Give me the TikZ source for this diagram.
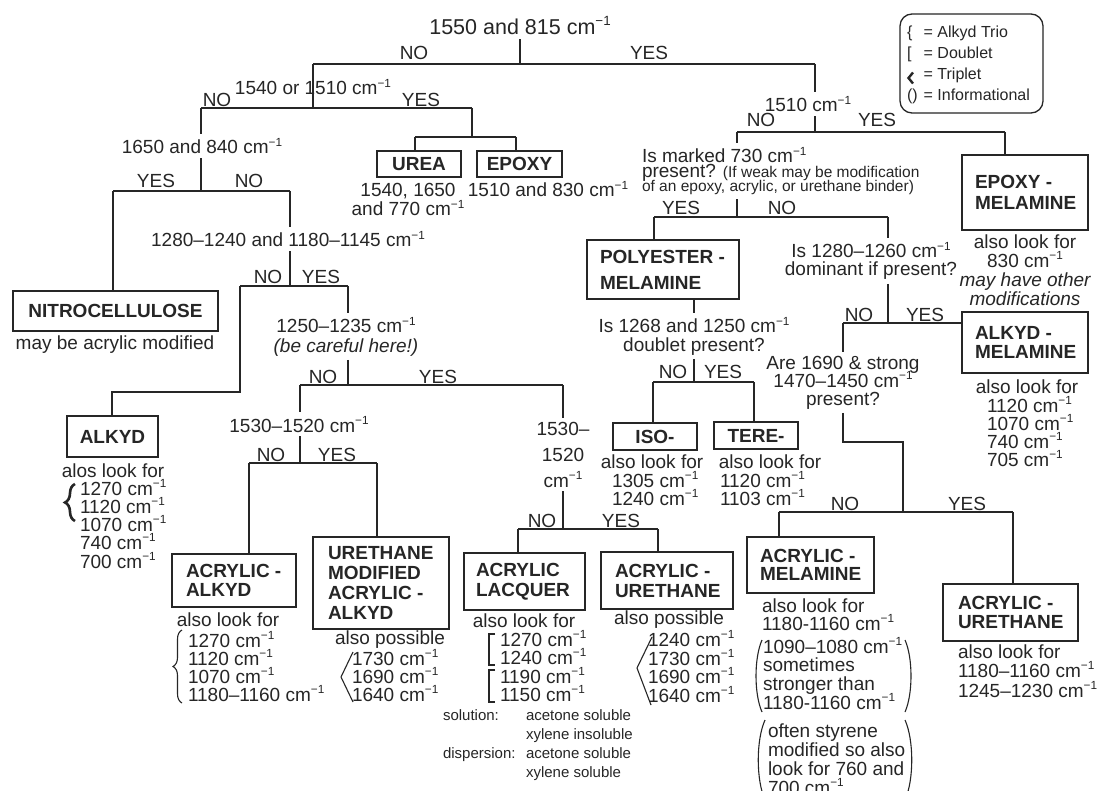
\documentclass[tikz,border=0pt]{standalone}
\usepackage{fontspec}
\setmainfont{Liberation Sans}
\usepackage{graphicx}
\usetikzlibrary{decorations.pathreplacing}
\definecolor{ink}{HTML}{262626}
% wavenumber unit with a raised -1
\newcommand\cmi{cm\raisebox{0.42em}{\scalebox{0.62}{−1}}}
% stacked lines with a fixed baseline distance; baseline of the whole = first line
\newcommand\stackC[2]{\vtop{\baselineskip=#1\relax\lineskiplimit=-\maxdimen\lineskip=0pt\halign{\hfil##\hfil\cr#2\crcr}}}
\newcommand\stackL[2]{\vtop{\baselineskip=#1\relax\lineskiplimit=-\maxdimen\lineskip=0pt\halign{##\hfil\cr#2\crcr}}}
% left-aligned lines inside a box of given width, indent and line distance
\newcommand\boxlines[4]{\hbox to #1{\hskip#2\stackL{#3}{#4}\hss}}
\newcommand\smallnote{\fontsize{15.5}{15.5}\selectfont}
\newcommand\legendrows{\vtop{\baselineskip=21pt\relax\lineskiplimit=-\maxdimen\lineskip=0pt\halign{##\hfil\hskip6pt&##\hfil\cr\{&= Alkyd Trio\cr[&= Doublet\cr&= Triplet\cr()&= Informational\cr}}}
\begin{document}
\begin{tikzpicture}[x=1pt,y=-1pt,
  txt/.style={font=\fontsize{19}{19}\selectfont, text=ink, inner xsep=0pt, inner ysep=4pt, outer sep=0pt},
  lab/.style={txt, anchor=base},
  lst/.style={txt, anchor=base west},
  notetxt/.style={txt, anchor=base west, font=\fontsize{15}{15}\selectfont},
  legtxt/.style={txt, anchor=base west, font=\fontsize{16}{16}\selectfont},
  nodebox/.style={draw=ink, line width=1.5pt, text=ink, font=\bfseries\fontsize{19}{19}\selectfont, inner sep=0pt, outer sep=0pt, anchor=north west},
  conn/.style={draw=ink, line width=1.5pt},
  bracketline/.style={draw=ink, line width=1.1pt},
]
\useasboundingbox (0,0) rectangle (1102,791);
\fill[white] (0,0) rectangle (1102,791);

% ---------------- root
\node[lab, font=\fontsize{21.5}{21.5}\selectfont] (q0) at (520,35) {1550 and 815 \cmi};
\coordinate (r0) at (520,64);
\coordinate (r0l) at (313,64);
\coordinate (r0r) at (815,64);
\node[lab] (r0no) at (414,60) {NO};
\node[lab] (r0yes) at (649,60) {YES};

% ---------------- left half
\node[lab] (q1) at (313,95) {1540 or 1510 \cmi};
\coordinate (b1) at (313,108);
\coordinate (b1l) at (201,108);
\coordinate (b1r) at (472,108);
\node[lab] (b1no) at (217,107) {NO};
\node[lab] (b1yes) at (421,107) {YES};

\coordinate (u0) at (472,137);
\coordinate (ul) at (415,137);
\coordinate (ur) at (516,137);
\node[nodebox, minimum width=84pt, minimum height=26pt] (urea) at (377,151) {UREA};
\node[nodebox, minimum width=85pt, minimum height=26pt] (epoxy) at (477,151) {EPOXY};
\node[lab] (ureacap) at (408,197) {\stackC{19pt}{1540, 1650\cr and 770 \cmi}};
\node[lab] (epoxycap) at (548,197) {1510 and 830 \cmi};

\node[lab] (q2) at (202,154) {1650 and 840 \cmi};
\coordinate (c0) at (201,191);
\coordinate (cl) at (113,191);
\coordinate (cr) at (290,191);
\node[lab] (c0yes) at (156,188) {YES};
\node[lab] (c0no) at (249,188) {NO};
\node[nodebox, minimum width=205pt, minimum height=40pt] (nitro) at (13,291) {NITROCELLULOSE};
\node[lab] (nitrocap) at (115,349) {may be acrylic modified};

\node[lab] (q3) at (288,247) {1280–1240 and 1180–1145 \cmi};
\coordinate (d0) at (290,286);
\coordinate (dl) at (240,286);
\coordinate (dr) at (348,286);
\node[lab] (d0no) at (268,284) {NO};
\node[lab] (d0yes) at (321,284) {YES};
\coordinate (e0) at (112,392);
\node[nodebox, minimum width=91pt, minimum height=41pt] (alkyd) at (67,416) {ALKYD};
\node[lab] (alkydcap) at (113,477) {alos look for};
\node[lst] (alkydlist) at (80,495) {\stackL{18.3pt}{1270 \cmi\cr 1120 \cmi\cr 1070 \cmi\cr 740 \cmi\cr 700 \cmi}};
\draw[ink, line width=2.6pt, decorate, decoration={brace, amplitude=10pt}] (75,521) -- (75,484);

\node[lab] (q4) at (346,333) {\stackC{19pt}{1250–1235 \cmi\cr \itshape (be careful here!)}};
\coordinate (f0) at (348,385);
\coordinate (fl) at (300,385);
\coordinate (fr) at (563,385);
\node[lab] (f0no) at (323,383) {NO};
\node[lab] (f0yes) at (438,383) {YES};

\node[lab] (q5) at (299,432) {1530–1520 \cmi};
\coordinate (g0) at (300,463);
\coordinate (gl) at (249,463);
\coordinate (gr) at (377,463);
\node[lab] (g0no) at (271,461) {NO};
\node[lab] (g0yes) at (337,461) {YES};
\node[nodebox, minimum width=124pt, minimum height=53pt] (acal) at (172,554) {\boxlines{124pt}{14pt}{19pt}{ACRYLIC -\cr ALKYD}};
\node[nodebox, minimum width=136pt, minimum height=92pt] (umaa) at (313,537) {\boxlines{136pt}{15pt}{19.7pt}{URETHANE\cr MODIFIED\cr ACRYLIC -\cr ALKYD}};
\node[lab] (acalcap) at (228,626) {also look for};
\node[lst] (acallist) at (188,647) {\stackL{18pt}{1270 \cmi\cr 1120 \cmi\cr 1070 \cmi\cr 1180–1160 \cmi}};
\draw[ink, line width=1.1pt, decorate, decoration={brace, amplitude=9pt}] (182,703) -- (182,630);
\node[lab] (umaacap) at (390,644) {also possible};
\node[lst] (umaalist) at (352,665) {\stackL{18pt}{1730 \cmi\cr 1690 \cmi\cr 1640 \cmi}};
\draw[bracketline] (353,652) -- (341,677) -- (353,702);

\node[lab] (q6) at (563,435) {\stackC{26pt}{1530–\cr 1520\cr \cmi}};
\coordinate (h0) at (563,529);
\coordinate (hl) at (518,529);
\coordinate (hr) at (658,529);
\node[lab] (h0no) at (542,527) {NO};
\node[lab] (h0yes) at (621,527) {YES};
\node[nodebox, minimum width=121pt, minimum height=57pt] (lacq) at (464,553) {\boxlines{121pt}{12pt}{20pt}{ACRYLIC\cr LACQUER}};
\node[nodebox, minimum width=132pt, minimum height=57pt] (acur) at (601,552) {\boxlines{132pt}{14pt}{20pt}{ACRYLIC -\cr URETHANE}};
\node[lab] (lacqcap) at (524,627) {also look for};
\node[lst] (lacqlist) at (500,646) {\stackL{18.5pt}{1270 \cmi\cr 1240 \cmi\cr 1190 \cmi\cr 1150 \cmi}};
\draw[bracketline] (495,634) -- (489,634) -- (489,665) -- (495,665);
\draw[bracketline] (495,670) -- (489,670) -- (489,702) -- (495,702);
\node[notetxt] (solkind) at (443,720) {\stackL{19pt}{solution:\cr\cr dispersion:}};
\node[notetxt] (solvent) at (526,720) {\stackL{19pt}{acetone soluble\cr xylene insoluble\cr acetone soluble\cr xylene soluble}};
\node[lab] (acurcap) at (669,624) {also possible};
\node[lst] (acurlist) at (648,646.5) {\stackL{18.5pt}{1240 \cmi\cr 1730 \cmi\cr 1690 \cmi\cr 1640 \cmi}};
\draw[bracketline] (652,637) -- (637,668) -- (651,705);

% ---------------- right half
\node[lab] (q7) at (808,112) {1510 \cmi};
\coordinate (i0) at (815,132);
\coordinate (il) at (737,132);
\coordinate (ir) at (1005,132);
\node[lab] (i0no) at (761,127) {NO};
\node[lab] (i0yes) at (877,127) {YES};
\node[nodebox, minimum width=126pt, minimum height=75pt] (epmel) at (962,155) {\boxlines{126pt}{13pt}{21pt}{EPOXY -\cr MELAMINE}};
\node[lab] (epmelcap) at (1025,249) {\stackC{18.7pt}{also look for\cr 830 \cmi\cr \itshape may have other\cr \itshape modifications}};

\node[lst] (q8) at (642,163) {\stackL{14.5pt}{Is marked 730 \cmi\cr present? {\smallnote (If weak may be modification}\cr {\smallnote of an epoxy, acrylic, or urethane binder)}}};
\coordinate (k0) at (737,217);
\coordinate (kl) at (654,217);
\coordinate (kr) at (888,217);
\node[lab] (k0yes) at (681,215) {YES};
\node[lab] (k0no) at (782,215) {NO};
\node[nodebox, minimum width=152pt, minimum height=59pt] (pomel) at (587,240) {\boxlines{152pt}{13pt}{26pt}{POLYESTER -\cr MELAMINE}};
\node[lab] (q9) at (694,333) {\stackC{18pt}{Is 1268 and 1250 \cmi\cr doublet present?}};
\coordinate (l0) at (694,382);
\coordinate (ll) at (653,382);
\coordinate (lr) at (754,382);
\node[lab] (l0no) at (673,378) {NO};
\node[lab] (l0yes) at (723,378) {YES};
\node[nodebox, minimum width=84pt, minimum height=27pt] (iso) at (613,423) {ISO-};
\node[nodebox, minimum width=84pt, minimum height=27pt] (tere) at (714,422) {TERE-};
\node[lab] (isocap) at (652,468) {also look for};
\node[lst] (isolist) at (612,487) {\stackL{18pt}{1305 \cmi\cr 1240 \cmi}};
\node[lab] (terecap) at (770,468) {also look for};
\node[lst] (terelist) at (720,487) {\stackL{18pt}{1120 \cmi\cr 1103 \cmi}};

\node[lab] (q10) at (871,258) {\stackC{18pt}{Is 1280–1260 \cmi\cr dominant if present?}};
\coordinate (m0) at (888,323);
\coordinate (ml) at (843,323);
\node[lab] (m0no) at (859,322) {NO};
\node[lab] (m0yes) at (925,322) {YES};
\node[nodebox, minimum width=126pt, minimum height=61pt] (almel) at (962,312) {\boxlines{126pt}{13pt}{18.5pt}{ALKYD -\cr MELAMINE}};
\node[lab] (almelcap) at (1027,393) {also look for};
\node[lst] (almellist) at (987,412) {\stackL{18pt}{1120 \cmi\cr 1070 \cmi\cr 740 \cmi\cr 705 \cmi}};

\node[lab] (q11) at (843,369) {\stackC{18pt}{Are 1690 \& strong\cr 1470–1450 \cmi\cr present?}};
\coordinate (n0) at (903,442);
\coordinate (o0) at (903,512);
\coordinate (ol) at (779,512);
\coordinate (or) at (1013,512);
\node[lab] (o0no) at (845,510) {NO};
\node[lab] (o0yes) at (967,510) {YES};
\node[nodebox, minimum width=127pt, minimum height=56pt] (acmel) at (747,537) {\boxlines{127pt}{13pt}{18.5pt}{ACRYLIC -\cr MELAMINE}};
\node[nodebox, minimum width=135pt, minimum height=57pt] (acur2) at (943,584) {\boxlines{135pt}{15pt}{18.5pt}{ACRYLIC -\cr URETHANE}};
\node[lst] (acmelcap) at (762,612) {\stackL{18.5pt}{also look for\cr 1180-1160 \cmi}};
\node[lst] (acmelnote1) at (763,653) {\stackL{18.7pt}{1090–1080 \cmi\cr sometimes\cr stronger than\cr 1180-1160 \cmi}};
\draw[bracketline] (762,640) .. controls (754,658) and (754,694) .. (762,712);
\draw[bracketline] (905,640) .. controls (913,658) and (913,694) .. (905,712);
\node[lst] (acmelnote2) at (768,737) {\stackL{19pt}{often styrene\cr modified so also\cr look for 760 and\cr 700 \cmi}};
\draw[bracketline] (765,720) .. controls (756,740) and (756,780) .. (765,800);
\draw[bracketline] (905,720) .. controls (914,740) and (914,780) .. (905,800);
\node[lst] (acur2cap) at (958,658) {\stackL{19.5pt}{also look for\cr 1180–1160 \cmi\cr 1245–1230 \cmi}};

% ---------------- legend
\node[draw=ink, line width=1.3pt, rounded corners=12pt, anchor=north west, minimum width=143pt, minimum height=99pt, inner sep=0pt, outer sep=0pt] (legend) at (900,14) {};
\node[legtxt] (legrows) at (907,38) {\legendrows};
\draw[ink, line width=2.4pt] (913,72.5) -- (908.5,78) -- (913,83.5);

% ---------------- connectors
\begin{scope}[every path/.style={conn}]
\draw (q0.south) -- (r0);
\draw (r0l) -- (r0r);
\draw (r0l) -- (b1);
\draw (b1l) -- (b1r);
\draw (b1r) -- (u0);
\draw (ul) -- (ur);
\draw (ul) -- (ul |- urea.north);
\draw (ur) -- (ur |- epoxy.north);
\draw (b1l) -- (b1l |- q2.north);
\draw (q2.south -| c0) -- (c0);
\draw (cl) -- (cr);
\draw (cl) -- (cl |- nitro.north);
\draw (cr) -- (cr |- q3.north);
\draw (q3.south -| d0) -- (d0);
\draw (dl) -- (dr);
\draw (dl) |- (e0) -- (e0 |- alkyd.north);
\draw (dr) -- (dr |- q4.north);
\draw (q4.south -| f0) -- (f0);
\draw (fl) -- (fr);
\draw (fl) -- (fl |- q5.north);
\draw (q5.south -| g0) -- (g0);
\draw (gl) -- (gr);
\draw (gl) -- (gl |- acal.north);
\draw (gr) -- (gr |- umaa.north);
\draw (fr) -- (fr |- q6.north);
\draw (q6.south -| h0) -- (h0);
\draw (hl) -- (hr);
\draw (hl) -- (hl |- lacq.north);
\draw (hr) -- (hr |- acur.north);
\draw (r0r) -- (r0r |- q7.north);
\draw (q7.south -| i0) -- (i0);
\draw (il) -- (ir);
\draw (ir) -- (ir |- epmel.north);
\draw (il) -- (il |- q8.north);
\draw (q8.south -| k0) -- (k0);
\draw (kl) -- (kr);
\draw (kl) -- (kl |- pomel.north);
\draw (pomel.south -| l0) -- (l0 |- q9.north);
\draw (q9.south -| l0) -- (l0);
\draw (ll) -- (lr);
\draw (ll) -- (ll |- iso.north);
\draw (lr) -- (lr |- tere.north);
\draw (kr) -- (kr |- q10.north);
\draw (q10.south -| m0) -- (m0);
\draw (ml) -- (ml -| almel.west);
\draw (ml) -- (ml |- q11.north);
\draw (q11.south -| ml) |- (n0) -- (o0);
\draw (ol) -- (or);
\draw (ol) -- (ol |- acmel.north);
\draw (or) -- (or |- acur2.north);
\end{scope}
\end{tikzpicture}
\end{document}
